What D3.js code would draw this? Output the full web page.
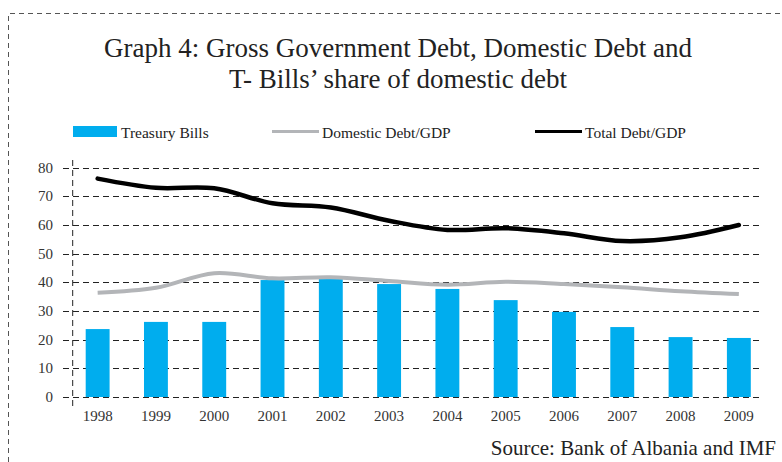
<!DOCTYPE html>
<html>
<head>
<meta charset="utf-8">
<script src="https://cdn.jsdelivr.net/npm/d3@7"></script>
<style>
  body { margin: 0; background: #fff; }
  svg { display: block; font-family: "Liberation Serif", "DejaVu Serif", serif; }
</style>
</head>
<body>
<svg id="chart" width="782" height="462"></svg>
<script>
var years = ['1998', '1999', '2000', '2001', '2002', '2003', '2004', '2005', '2006', '2007', '2008', '2009'];
var tbills = [23.7, 26.2, 26.2, 40.8, 41.2, 39.4, 37.7, 33.8, 29.7, 24.4, 20.9, 20.6];
var domesticDebt = [36.4, 38.1, 43.2, 41.4, 41.8, 40.5, 39.2, 40.2, 39.4, 38.3, 36.9, 35.9];
var totalDebt = [76.2, 73.0, 72.8, 67.6, 66.1, 61.5, 58.3, 58.9, 57.1, 54.4, 55.7, 60.0];
var yTicks = [0, 10, 20, 30, 40, 50, 60, 70, 80];

var svg = d3.select('#chart');
var W = 782, H = 462;

// outer dashed frame
svg.append('path')
  .attr('d', 'M8.5,' + H + ' L8.5,13.5 L' + W + ',13.5')
  .style('fill', 'none')
  .style('stroke', '#555')
  .style('stroke-width', 1)
  .style('stroke-dasharray', '5,4')
;

// title
var title = svg.append('text')
  .attr('text-anchor', 'middle')
  .style('font-size', '27px')
  .style('fill', '#222')
;
title.append('tspan').attr('x', 398).attr('y', 57)
  .text('Graph 4: Gross Government Debt, Domestic Debt and');
title.append('tspan').attr('x', 398).attr('y', 88)
  .text('T- Bills\u2019 share of domestic debt');

var x = d3.scaleBand()
  .domain(years)
  .range([68.5, 768])
  .paddingInner(0.59)
  .paddingOuter(0.295)
;
var y = d3.scaleLinear()
  .domain([0, 80])
  .range([397, 167.7])
;

var gridLeft = 63, gridRight = 763, axisX = 72.7;

// horizontal gridlines
svg.append('g')
  .selectAll('line')
  .data(yTicks)
  .enter().append('line')
  .attr('x1', gridLeft)
  .attr('x2', gridRight)
  .attr('y1', function(d) { return Math.round(y(d)) + 0.5; })
  .attr('y2', function(d) { return Math.round(y(d)) + 0.5; })
  .style('stroke', '#222')
  .style('stroke-width', 1)
  .style('stroke-dasharray', '6,4')
;

// vertical dashed axis
svg.append('line')
  .attr('x1', axisX).attr('x2', axisX)
  .attr('y1', 160).attr('y2', 407)
  .style('stroke', '#222')
  .style('stroke-width', 1)
  .style('stroke-dasharray', '6,4')
;

// y tick labels
svg.append('g')
  .selectAll('text')
  .data(yTicks)
  .enter().append('text')
  .attr('x', 53)
  .attr('y', function(d) { return y(d) + 5; })
  .attr('text-anchor', 'end')
  .style('font-size', '15px')
  .style('fill', '#333')
  .text(function(d) { return d; })
;

// x labels
svg.append('g')
  .selectAll('text')
  .data(years)
  .enter().append('text')
  .attr('x', function(d) { return x(d) + x.bandwidth() / 2; })
  .attr('y', 421)
  .attr('text-anchor', 'middle')
  .style('font-size', '15px')
  .style('fill', '#333')
  .text(function(d) { return d; })
;

// bars
svg.append('g')
  .selectAll('rect')
  .data(tbills)
  .enter().append('rect')
  .attr('x', function(d, i) { return x(years[i]); })
  .attr('y', function(d) { return y(d); })
  .attr('width', x.bandwidth())
  .attr('height', function(d) { return y(0) - y(d); })
  .style('fill', '#00ADEE')
;

var line = d3.line()
  .x(function(d, i) { return x(years[i]) + x.bandwidth() / 2; })
  .y(function(d) { return y(d); })
  .curve(d3.curveCatmullRom.alpha(0.5))
;

svg.append('path')
  .datum(domesticDebt)
  .attr('d', line)
  .style('fill', 'none')
  .style('stroke', '#B3B5B8')
  .style('stroke-width', 4)
;
svg.append('path')
  .datum(totalDebt)
  .attr('d', line)
  .style('fill', 'none')
  .style('stroke', '#000')
  .style('stroke-width', 4.5)
  .style('stroke-linecap', 'round')
;

// legend
var legend = svg.append('g').style('font-size', '15.5px').style('fill', '#222');
legend.append('rect')
  .attr('x', 73).attr('y', 126).attr('width', 44).attr('height', 11)
  .style('fill', '#00ADEE');
legend.append('text').attr('x', 121).attr('y', 138).text('Treasury Bills');
legend.append('line')
  .attr('x1', 272).attr('x2', 319).attr('y1', 131.5).attr('y2', 131.5)
  .style('stroke', '#B3B5B8').style('stroke-width', 3);
legend.append('text').attr('x', 322).attr('y', 138).text('Domestic Debt/GDP');
legend.append('line')
  .attr('x1', 535).attr('x2', 582).attr('y1', 131.5).attr('y2', 131.5)
  .style('stroke', '#000').style('stroke-width', 3);
legend.append('text').attr('x', 585).attr('y', 138).text('Total Debt/GDP');

// source
svg.append('text')
  .attr('x', 776)
  .attr('y', 455)
  .attr('text-anchor', 'end')
  .style('font-size', '21px')
  .style('fill', '#222')
  .text('Source: Bank of Albania and IMF');
</script>
</body>
</html>
